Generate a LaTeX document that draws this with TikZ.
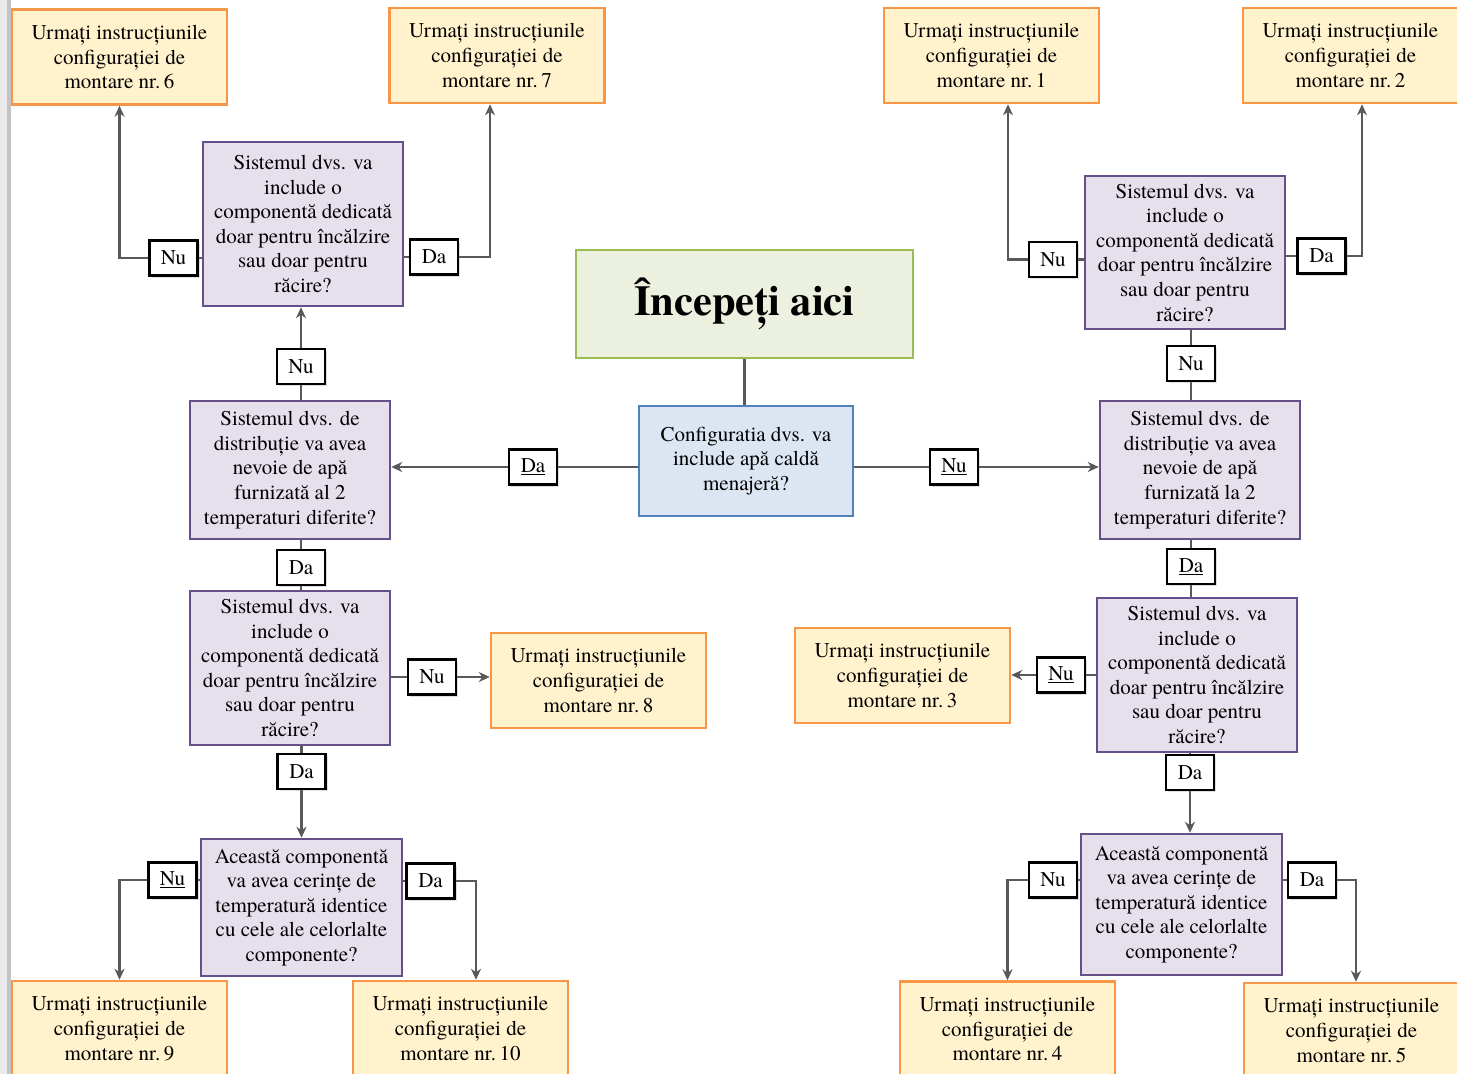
\documentclass[tikz,border=0pt]{standalone}
\usepackage{fontspec}
\setmainfont{texgyretermes}[Extension=.otf,UprightFont=*-regular,BoldFont=*-bold,ItalicFont=*-italic,BoldItalicFont=*-bolditalic]
\usetikzlibrary{arrows.meta,shadows,calc}
\definecolor{ofill}{HTML}{FFF2CC}
\definecolor{oline}{HTML}{F79646}
\definecolor{qfill}{HTML}{E5E0EC}
\definecolor{qline}{HTML}{65508A}
\definecolor{gfill}{HTML}{EBF1DE}
\definecolor{gline}{HTML}{9BBB59}
\definecolor{bfill}{HTML}{DCE6F2}
\definecolor{bline}{HTML}{4F81BD}
\definecolor{lgray}{HTML}{595959}
\definecolor{barA}{HTML}{EBEBEB}
\definecolor{barB}{HTML}{C4C4C4}
\pgfdeclarelayer{bg}
\pgfsetlayers{bg,main}
\tikzset{
  base/.style={draw, line width=2.5pt, align=center, inner sep=0pt, font=\fontsize{21}{24.6}\selectfont},
  obox/.style={base, draw=oline, fill=ofill, minimum width=215pt, minimum height=95pt},
  qbox/.style={base, draw=qline, fill=qfill, minimum width=200pt},
  lbl/.style={draw=black, line width=2.5pt, fill=white, minimum width=48pt, minimum height=35pt, inner sep=0pt,
    font=\fontsize{21}{22}\selectfont, drop shadow={opacity=0.25, shadow xshift=2pt, shadow yshift=-2pt}},
  conn/.style={draw=lgray, line width=2.6pt},
  arr/.style={conn, -{Stealth[length=11pt,width=10pt]}},
}
\begin{document}
\begin{tikzpicture}[x=1pt,y=-1pt]
\useasboundingbox (0,0) rectangle (1457,1074);
\clip (0,0) rectangle (1457,1074);

% orange result boxes
\node[obox] (b6)  at (119.5,57)   {Urmați instrucțiunile\\configurației de\\montare nr.\,6};
\node[obox] (b7)  at (497,55.5)   {Urmați instrucțiunile\\configurației de\\montare nr.\,7};
\node[obox] (b1)  at (991.5,55.5) {Urmați instrucțiunile\\configurației de\\montare nr.\,1};
\node[obox] (b2)  at (1350.5,55.5){Urmați instrucțiunile\\configurației de\\montare nr.\,2};
\node[obox] (b8)  at (598.5,680.5){Urmați instrucțiunile\\configurației de\\montare nr.\,8};
\node[obox] (b3)  at (902.5,675.5){Urmați instrucțiunile\\configurației de\\montare nr.\,3};
\node[obox] (b9)  at (119.5,1028.5){Urmați instrucțiunile\\configurației de\\montare nr.\,9};
\node[obox] (b10) at (460.5,1028.5){Urmați instrucțiunile\\configurației de\\montare nr.\,10};
\node[obox] (b4)  at (1007.5,1029){Urmați instrucțiunile\\configurației de\\montare nr.\,4};
\node[obox] (b5)  at (1351.5,1030.5){Urmați instrucțiunile\\configurației de\\montare nr.\,5};

% start and first question
\node[base, draw=gline, fill=gfill, minimum width=337pt, minimum height=108pt, font=\fontsize{42.5}{48}\selectfont\bfseries] (start) at (744.5,304) {Începeți aici};
\node[base, draw=bline, fill=bfill, minimum width=214pt, minimum height=110pt] (blue) at (746,461) {Configuratia dvs. va\\include apă caldă\\menajeră?};

% purple questions
\node[qbox, minimum height=164pt] (q1l) at (303,224) {Sistemul dvs. va\\include o\\componentă dedicată\\doar pentru încălzire\\sau doar pentru\\răcire?};
\node[qbox, minimum height=138pt] (q2l) at (290,470) {Sistemul dvs. de\\distribuție va avea\\nevoie de apă\\furnizată al 2\\temperaturi diferite?};
\node[qbox, minimum height=154pt] (q3l) at (290,668) {Sistemul dvs. va\\include o\\componentă dedicată\\doar pentru încălzire\\sau doar pentru\\răcire?};
\node[qbox, minimum width=201pt, minimum height=137pt] (q4l) at (301.5,907.5) {Această componentă\\va avea cerințe de\\temperatură identice\\cu cele ale celorlalte\\componente?};
\node[qbox, minimum height=153pt] (q1r) at (1185,252.5) {Sistemul dvs. va\\include o\\componentă dedicată\\doar pentru încălzire\\sau doar pentru\\răcire?};
\node[qbox, minimum height=138pt] (q2r) at (1200,470) {Sistemul dvs. de\\distribuție va avea\\nevoie de apă\\furnizată la 2\\temperaturi diferite?};
\node[qbox, minimum height=154pt] (q3r) at (1197,675) {Sistemul dvs. va\\include o\\componentă dedicată\\doar pentru încălzire\\sau doar pentru\\răcire?};
\node[qbox, minimum width=201pt, minimum height=141pt] (q4r) at (1181.5,904.5) {Această componentă\\va avea cerințe de\\temperatură identice\\cu cele ale celorlalte\\componente?};

% labels
\node[lbl] (l1)  at (173.5,258) {Nu};
\node[lbl] (l2)  at (434,257)   {Da};
\node[lbl] (l3)  at (301,366.5) {Nu};
\node[lbl] (l4)  at (533,467)   {\underline{Da}};
\node[lbl] (l5)  at (301,567.5) {Da};
\node[lbl] (l6)  at (432,677)   {Nu};
\node[lbl] (l7)  at (301.5,771.5) {Da};
\node[lbl] (l8)  at (172.5,880) {\underline{Nu}};
\node[lbl] (l9)  at (430.5,881) {Da};
\node[lbl] (l10) at (954,467)   {\underline{Nu}};
\node[lbl] (l11) at (1053,259.5){Nu};
\node[lbl] (l12) at (1321.5,256){Da};
\node[lbl] (l13) at (1191,363.5){Nu};
\node[lbl] (l14) at (1191,566.5){\underline{Da}};
\node[lbl] (l15) at (1061,675)  {\underline{Nu}};
\node[lbl] (l16) at (1190,772.5){Da};
\node[lbl] (l17) at (1053,880)  {Nu};
\node[lbl] (l18) at (1312,880)  {Da};

\begin{pgfonlayer}{bg}
\fill[white] (0,0) rectangle (1457,1074);
\fill[barA] (0,0) rectangle (7,1074);
\fill[barB] (7,0) rectangle (11,1074);
\draw[conn] (start.south) -- (start.south |- blue.north);
\draw[arr] (blue.west |- l4) -- (q2l.east |- l4);
\draw[arr] (blue.east |- l10) -- (q2r.west |- l10);
% left branch
\draw[arr] (q2l.north -| l3) -- (q1l.south -| l3);
\draw[arr] (q1l.west |- l1) -| (b6.south);
\draw[arr] (q1l.east |- l2) -| ($(b7.south)+(-7,0)$);
\draw[conn] (q2l.south -| l5) -- (q3l.north -| l5);
\draw[arr] (q3l.east |- l6) -- (b8.west |- l6);
\draw[arr] (q3l.south -| l7) -- (q4l.north -| l7);
\draw[arr] (q4l.west |- l8) -| (b9.north);
\draw[arr] (q4l.east |- l9) -| ($(b10.north)+(15.5,0)$);
% right branch
\draw[conn] (q2r.north -| l13) -- (q1r.south -| l13);
\draw[arr] (q1r.west |- l11) -| ($(b1.south)+(16.5,0)$);
\draw[arr] (q1r.east |- l12) -| ($(b2.south)+(11.5,0)$);
\draw[conn] (q2r.south -| l14) -- (q3r.north -| l14);
\draw[arr] (q3r.west |- l15) -- (b3.east |- l15);
\draw[arr] (q3r.south -| l16) -- (q4r.north -| l16);
\draw[arr] (q4r.west |- l17) -| (b4.north);
\draw[arr] (q4r.east |- l18) -| ($(b5.north)+(4.5,0)$);
\end{pgfonlayer}
\end{tikzpicture}
\end{document}
